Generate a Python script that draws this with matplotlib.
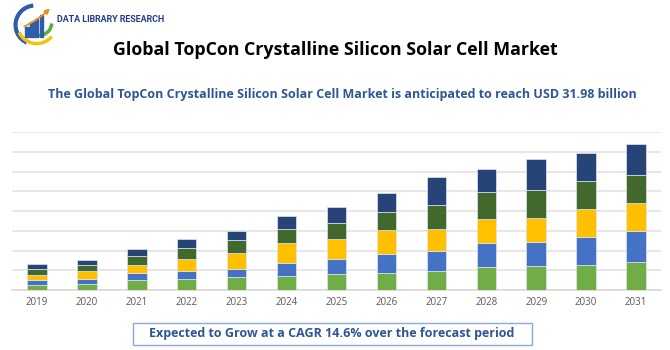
import matplotlib
matplotlib.use('Agg')
import matplotlib.pyplot as plt
import numpy as np
from matplotlib.patches import Arc, Rectangle, FancyArrowPatch

# chart data (in gridline units)
years = ['2019', '2020', '2021', '2022', '2023', '2024', '2025',
         '2026', '2027', '2028', '2029', '2030', '2031']
seg_green = [0.25, 0.30, 0.51, 0.56, 0.64, 0.69, 0.80, 0.88, 0.98, 1.18, 1.20, 1.28, 1.40]
seg_blue = [0.27, 0.26, 0.35, 0.40, 0.44, 0.68, 0.79, 0.96, 1.00, 1.19, 1.22, 1.41, 1.59]
seg_yellow = [0.22, 0.40, 0.39, 0.61, 0.81, 1.00, 1.00, 1.21, 1.13, 1.22, 1.23, 1.41, 1.43]
seg_dkgreen = [0.31, 0.31, 0.49, 0.56, 0.66, 0.71, 0.81, 0.91, 1.17, 1.38, 1.39, 1.42, 1.38]
seg_navy = [0.29, 0.27, 0.36, 0.44, 0.44, 0.66, 0.78, 0.95, 1.44, 1.17, 1.57, 1.42, 1.60]

series = [seg_green, seg_blue, seg_yellow, seg_dkgreen, seg_navy]
colors = ['#70AD47', '#4472C4', '#FFC000', '#43682B', '#264478']

title = 'Global TopCon Crystalline Silicon Solar Cell Market'
subtitle = 'The Global TopCon Crystalline Silicon Solar Cell Market is anticipated to reach USD 31.98 billion'
footer = 'Expected to Grow at a CAGR 14.6% over the forecast period'

W, H = 670, 350
fig = plt.figure(figsize=(W / 100, H / 100), dpi=100)

# main bar chart
ax = fig.add_axes([12 / W, 1 - 290 / H, (661 - 12) / W, (290 - 132) / H])
x = np.arange(len(years))
bottom = np.zeros(len(years))
for vals, c in zip(series, colors):
    vals = np.array(vals)
    ax.bar(x, vals, bottom=bottom, width=0.39, color=c,
           edgecolor='#DDE6F2', linewidth=0.5, zorder=3)
    bottom += vals

ax.set_xlim(-0.5, len(years) - 0.5)
ax.set_ylim(0, 8)
ax.set_yticks(np.arange(0, 9, 1))
ax.yaxis.grid(True, color='#E3E3E3', linewidth=1.2, zorder=0)
ax.tick_params(axis='y', left=False, labelleft=False)
ax.tick_params(axis='x', length=0, pad=5, labelsize=7, labelcolor='#595959')
ax.set_xticks(x)
ax.set_xticklabels(years, family='Open Sans')
for s in ['top', 'right', 'left']:
    ax.spines[s].set_visible(False)
ax.spines['bottom'].set_color('#D9D9D9')
ax.spines['bottom'].set_linewidth(1.2)

# titles
fig.text(335 / W, 1 - 50 / H, title, ha='center', va='center',
         fontsize=12.8, fontweight='bold', family='Open Sans', color='black')
fig.text(342 / W, 1 - 95 / H, subtitle, ha='center', va='center',
         fontsize=9, fontweight='bold', family='Open Sans', color='#2F5597')

# footer box
fig.patches.append(Rectangle((133 / W, 1 - 345 / H), (532 - 133) / W, 22 / H,
                             transform=fig.transFigure, facecolor='white',
                             edgecolor='#8EA9DB', linewidth=1))
fig.text(332 / W, 1 - 334 / H, footer, ha='center', va='center',
         fontsize=9, fontweight='bold', family='Open Sans', color='#2F5597')

# logo
lax = fig.add_axes([12 / W, 1 - 48 / H, 46 / W, 46 / H])
lax.set_xlim(-1.3, 1.3)
lax.set_ylim(-1.3, 1.3)
lax.axis('off')
lax.add_patch(Arc((0, 0), 2.2, 2.2, theta1=95, theta2=245, color='#2E5EAA', lw=3))
lax.add_patch(Arc((0.1, 0.05), 2.2, 2.2, theta1=205, theta2=320, color='#F4C20D', lw=2.5))
lax.add_patch(Arc((0.2, 0.15), 1.5, 1.5, theta1=230, theta2=355, color='#5BAA3C', lw=2.5))
for i, hgt in enumerate([0.55, 0.8, 1.0, 1.2]):
    lax.add_patch(Rectangle((-0.55 + i * 0.27, -0.65), 0.2, hgt, color='#2E5EAA'))
lax.add_patch(FancyArrowPatch((-0.75, -0.15), (0.95, 1.05), arrowstyle='-|>',
                              mutation_scale=7, color='#F08A24', lw=1.3,
                              connectionstyle='arc3,rad=0.1'))
fig.text(57 / W, 1 - 20 / H, 'DATA LIBRARY RESEARCH', ha='left', va='center',
         fontsize=6.4, fontweight='bold', family='Roboto', color='#1F3C88')

fig.savefig('out.png', dpi=100)
